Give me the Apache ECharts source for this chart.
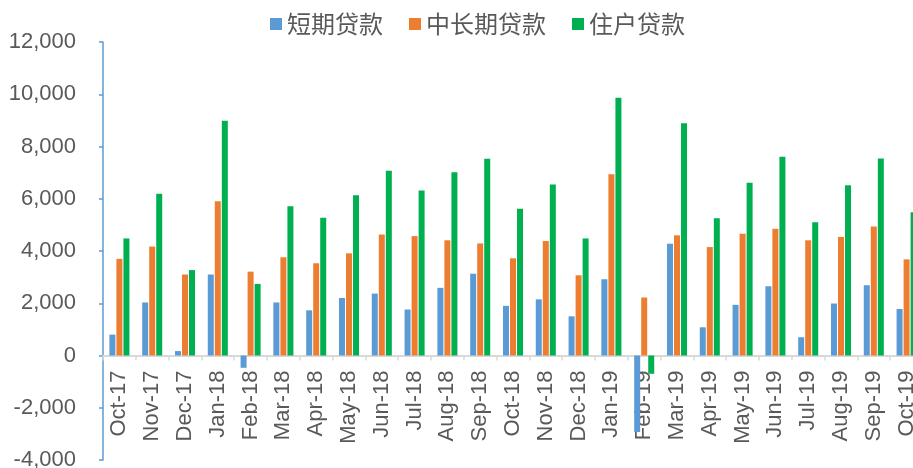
<!DOCTYPE html>
<html>
<head>
<meta charset="utf-8">
<script src="https://cdn.jsdelivr.net/npm/echarts@6/dist/echarts.min.js"></script>
<style>
html,body{margin:0;padding:0;background:#fff;}
#chart{width:913px;height:468px;}
</style>
</head>
<body>
<div id="chart"></div>
<script>
const categories = ['Oct-17','Nov-17','Dec-17','Jan-18','Feb-18','Mar-18','Apr-18','May-18','Jun-18','Jul-18','Aug-18','Sep-18','Oct-18','Nov-18','Dec-18','Jan-19','Feb-19','Mar-19','Apr-19','May-19','Jun-19','Jul-19','Aug-19','Sep-19','Oct-19'];
const shortTerm = [800, 2030, 170, 3100, -470, 2030, 1730, 2200, 2370, 1760, 2590, 3130, 1900, 2150, 1500, 2920, -2930, 4280, 1080, 1940, 2650, 700, 1990, 2690, 1780];
const midLong = [3700, 4170, 3100, 5900, 3210, 3760, 3530, 3910, 4630, 4570, 4410, 4290, 3720, 4380, 3070, 6940, 2220, 4600, 4150, 4660, 4850, 4410, 4540, 4940, 3680];
const household = [4480, 6190, 3270, 8990, 2740, 5710, 5270, 6130, 7070, 6320, 7010, 7530, 5620, 6550, 4480, 9870, -700, 8890, 5250, 6610, 7610, 5100, 6520, 7540, 5480];
const seriesNames = ['短期贷款', '中长期贷款', '住户贷款'];
const colors = ['#5B9BD5', '#ED7D31', '#00B050'];
const yMin = -4000, yMax = 12000, yStep = 2000;

const W = 913, H = 468;
const gridTop = 42, gridBottom = 8;
const gridH = H - gridTop - gridBottom;
// move the category axis up onto the zero line (distance from grid bottom)
const zeroOffset = -((0 - yMin) / (yMax - yMin)) * gridH;

const chart = echarts.init(document.getElementById('chart'));
const fontLatin = "'Liberation Sans', 'Noto Sans CJK SC', sans-serif";
const mk = (name, data, color) => ({
  name, type: 'bar', data, barWidth: 6, barGap: '17%',
  itemStyle: { color },
  emphasis: { disabled: true }
});
chart.setOption({
  animation: false,
  color: colors,
  legend: {
    left: 270, top: 12, padding: 0,
    icon: 'rect', itemWidth: 12, itemHeight: 12, itemGap: 26,
    textStyle: { fontSize: 24, color: '#595959', fontFamily: "'Noto Sans CJK SC', sans-serif" },
    data: seriesNames
  },
  grid: { left: 103, right: -10, top: gridTop, bottom: gridBottom, containLabel: false, outerBoundsMode: 'none' },
  xAxis: {
    type: 'category', data: categories,
    offset: zeroOffset,
    axisLine: { onZero: false, lineStyle: { color: '#D9D9D9', width: 2 } },
    axisTick: { show: true, length: 5, lineStyle: { color: '#D9D9D9', width: 1.5 } },
    axisLabel: { rotate: 90, interval: 0, margin: 15, fontSize: 22, color: '#595959', fontFamily: fontLatin },
    splitLine: { show: false }
  },
  yAxis: {
    type: 'value', min: yMin, max: yMax, interval: yStep,
    axisLine: { show: true, lineStyle: { color: '#5B9BD5', width: 1.5 } },
    axisTick: { show: true, length: 4, lineStyle: { color: '#5B9BD5', width: 1.5 } },
    axisLabel: { margin: 27, fontSize: 22, color: '#595959', fontFamily: fontLatin,
      formatter: v => v.toLocaleString('en-US') },
    splitLine: { show: false }
  },
  series: [
    mk(seriesNames[0], shortTerm, colors[0]),
    mk(seriesNames[1], midLong, colors[1]),
    mk(seriesNames[2], household, colors[2])
  ]
});
</script>
</body>
</html>
